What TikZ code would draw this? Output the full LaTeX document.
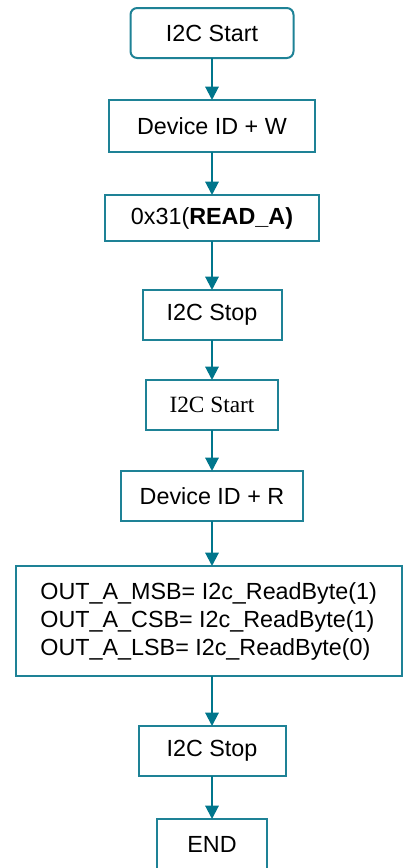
\documentclass[tikz,border=0pt]{standalone}
\usepackage{fontspec}
\setmainfont{Liberation Sans}
\newfontfamily\timesfont{Liberation Serif}
\usetikzlibrary{positioning,arrows.meta}
\definecolor{FlowLine}{RGB}{0,118,140}
\definecolor{FlowBorder}{RGB}{30,130,150}
\newcommand{\flowbox}[3]{
    \node(#1)[
        draw=FlowBorder,
        line width=1.5pt,
        %rounded corners,
        inner sep=0pt,
        outer sep=0pt,
        minimum height=37.5pt,
        align=center,
        font=\fontsize{17.5}{21}\selectfont,
        fill=white,
        #2
    ]{#3};
}
\tikzset{flow/.style={-{Triangle[length=10pt,width=10pt]}, line width=1.5pt, color=FlowLine}}

\begin{document}
\begin{tikzpicture}
	\useasboundingbox (0,0) rectangle (302.25pt,-651pt);
	
	\flowbox{start1}{rounded corners=5pt, minimum width=122.25pt, at={(159pt,-24.75pt)}}{I2C Start}
	\flowbox{devw}{minimum width=154.5pt, minimum height=39pt, below=31.5pt of start1}{Device ID + W}
	\flowbox{reg}{minimum width=160.5pt, minimum height=34.5pt, below=32.25pt of devw}{0x31(\textbf{READ\_A)}}
	\flowbox{stop1}{minimum width=104.25pt, below=36.75pt of reg}{I2C Stop}
	\flowbox{start2}{minimum width=99pt, below=30pt of stop1, font=\timesfont\fontsize{17.5}{21}\selectfont}{I2C Start}
	\flowbox{devr}{minimum width=136.5pt, below=30.75pt of start2}{Device ID + R}
	
	\flowbox{readout}{minimum width=289.5pt, minimum height=82.5pt, below=33.75pt of devr, xshift=-2.5pt, align=left}{OUT\_A\_MSB= I2c\_ReadByte(1)\\
	OUT\_A\_CSB= I2c\_ReadByte(1)\\
	OUT\_A\_LSB= I2c\_ReadByte(0)}
	
	\flowbox{stop2}{minimum width=110.25pt, below=37.5pt of readout.south -| devr, anchor=north}{I2C Stop}
	\flowbox{done}{minimum width=82.5pt, below=32.25pt of stop2}{END}
	
	\draw[flow] (start1) -- (devw);
	\draw[flow] (devw) -- (reg);
	\draw[flow] (reg) -- (stop1);
	\draw[flow] (stop1) -- (start2);
	\draw[flow] (start2) -- (devr);
	\draw[flow] (devr) -- (devr |- readout.north);
	\draw[flow] (readout.south -| stop2) -- (stop2);
	\draw[flow] (stop2) -- (done);
\end{tikzpicture}
\end{document}
